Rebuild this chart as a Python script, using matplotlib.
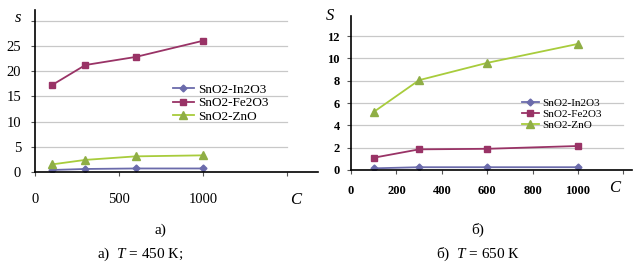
import matplotlib.pyplot as plt

plt.rcParams['font.family'] = 'Liberation Serif'
plt.rcParams['mathtext.fontset'] = 'custom'
plt.rcParams['mathtext.rm'] = 'Liberation Serif'
plt.rcParams['mathtext.it'] = 'Liberation Serif:italic'

conc = [100, 300, 600, 1000]
names = ['SnO2-In2O3', 'SnO2-Fe2O3', 'SnO2-ZnO']

# T = 450 K
s450_in = [0.4, 0.6, 0.7, 0.7]
s450_fe = [17.2, 21.2, 22.8, 26.0]
s450_zn = [1.5, 2.4, 3.1, 3.3]

# T = 650 K
s650_in = [0.15, 0.25, 0.25, 0.25]
s650_fe = [1.1, 1.85, 1.9, 2.15]
s650_zn = [5.2, 8.05, 9.6, 11.3]

colors = ['#6b6bab', '#993366', '#a8cc3c']
mcolors = ['#6b6bab', '#993366', '#8fae45']
markers = ['D', 's', '^']


def draw(ax, series, xmax_grid, ymax_grid, ystep, xticks, fs, fw, lfs, legpos, ms):
    for y in range(ystep, ymax_grid + 1, ystep):
        ax.plot([0, xmax_grid], [y, y], color='#c8c8c8', lw=0.9, zorder=0)
    for i, s in enumerate(series):
        ax.plot(conc, s, color=colors[i], lw=1.3, marker=markers[i],
                ms=ms[i], mfc=mcolors[i], mec=mcolors[i], label=names[i])
    for side in ['top', 'right']:
        ax.spines[side].set_visible(False)
    ax.spines['left'].set_linewidth(1.2)
    ax.spines['bottom'].set_linewidth(1.2)
    ax.set_xticks(xticks)
    ax.set_yticks(range(0, ymax_grid + 1, ystep))
    ax.set_yticklabels([str(v) for v in range(0, ymax_grid + 1, ystep)],
                       fontsize=fs, fontweight=fw)
    ax.set_xticklabels([str(v) if v <= 1000 else '' for v in xticks],
                       fontsize=fs, fontweight=fw)
    ax.tick_params(length=3, width=0.8, color='#555555')
    ax.legend(loc='upper left', bbox_to_anchor=legpos, frameon=False,
              fontsize=lfs, handlelength=1.6, labelspacing=0.1, borderpad=0,
              handletextpad=0.3)


fig = plt.figure(figsize=(6.38, 2.66), dpi=100)

ax1 = fig.add_axes([35 / 638, 94 / 266, 283 / 638, 162 / 266])
draw(ax1, [s450_in, s450_fe, s450_zn], 1500, 30, 5, [0, 500, 1000, 1500],
     10.5, 'normal', 9.5, (131 / 283, 1 - 67 / 162), [3.5, 5, 5.5])
ax1.set_xlim(0, 1685)
ax1.set_ylim(0, 32.1)
ax1.set_yticklabels(['0', '5', '10', '15', '20', '25', ''])
ax1.tick_params(axis='x', pad=12)
ax1.tick_params(axis='y', pad=7)
ax1.text(-0.05, 0.95, 's', transform=ax1.transAxes, fontsize=12,
         style='italic', ha='right', va='center')
ax1.text(0.90, -0.17, 'C', transform=ax1.transAxes, fontsize=12,
         style='italic', ha='left', va='center')

ax2 = fig.add_axes([351 / 638, 96 / 266, 281 / 638, 154 / 266])
draw(ax2, [s650_in, s650_fe, s650_zn], 1200, 12, 2,
     [0, 200, 400, 600, 800, 1000, 1200],
     9, 'bold', 8, (165 / 281, 1 - 77 / 154), [3.5, 5, 5.5])
ax2.set_xlim(0, 1238)
ax2.set_ylim(0, 13.8)
ax2.tick_params(axis='x', pad=8)
ax2.tick_params(axis='y', pad=5)
ax2.text(-0.06, 1.0, 'S', transform=ax2.transAxes, fontsize=12,
         style='italic', ha='right', va='center')
ax2.text(0.92, -0.12, 'C', transform=ax2.transAxes, fontsize=12,
         style='italic', ha='left', va='center')

fig.text(160 / 638, 1 - 230 / 266, 'а)', fontsize=11, ha='center', va='center')
fig.text(140 / 638, 1 - 254 / 266, 'а)  $T$ = 450 К;', fontsize=11,
         ha='center', va='center')
fig.text(478 / 638, 1 - 230 / 266, 'б)', fontsize=11, ha='center', va='center')
fig.text(478 / 638, 1 - 254 / 266, 'б)  $T$ = 650 К', fontsize=11,
         ha='center', va='center')

fig.savefig('out.png', dpi=100)
